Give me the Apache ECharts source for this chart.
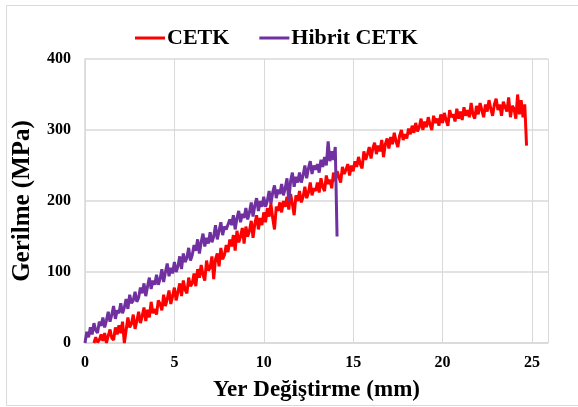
<!DOCTYPE html>
<html>
<head>
<meta charset="utf-8">
<script src="https://cdn.jsdelivr.net/npm/echarts@6/dist/echarts.min.js"></script>
<style>
  html, body { margin: 0; padding: 0; background: #fff; }
  #chart { width: 578px; height: 407px; }
</style>
</head>
<body>
<div id="chart"></div>
<script>
// Yer değiştirme örnekleme (mm)
const step = 0.1
const cetkStart = 0.5
const hibritStart = 0.0

// CETK gerilme değerleri (MPa), 0.5 mm'den itibaren 0.1 mm aralıkla
const cetk = [
  0, 8, 1, 4, 12,
  3, 14, 0, 10, 19, 7, 4, 22, 12, 25,
  14, 30, 0, 18, 36, 22, 27, 40, 20, 31,
  44, 28, 38, 50, 31, 47, 36, 58, 42, 48,
  40, 60, 55, 46, 68, 52, 62, 74, 55, 66,
  78, 60, 72, 84, 66, 88, 75, 70, 92, 80,
  84, 98, 80, 104, 92, 110, 96, 88, 116, 102,
  106, 122, 90, 118, 126, 108, 134, 118, 124, 138,
  128, 146, 136, 152, 130, 158, 142, 150, 162, 140,
  164, 150, 158, 172, 148, 168, 180, 160, 176, 166,
  184, 170, 190, 178, 196, 176, 160, 192, 186, 198,
  184, 200, 192, 206, 188, 210, 196, 180, 208, 200,
  214, 198, 206, 220, 204, 212, 226, 208, 218, 214,
  226, 212, 232, 220, 214, 236, 224, 230, 218, 240,
  228, 242, 234, 226, 248, 238, 244, 252, 236, 250,
  242, 256, 248, 262, 252, 246, 270, 258, 266, 276,
  260, 274, 282, 266, 278, 270, 286, 262, 280, 288,
  274, 290, 280, 296, 284, 276, 292, 300, 286, 294,
  288, 302, 294, 306, 296, 310, 298, 304, 316, 300,
  312, 304, 318, 308, 300, 320, 310, 316, 306, 322,
  310, 324, 314, 306, 328, 318, 322, 312, 330, 316,
  326, 314, 332, 320, 328, 318, 338, 322, 316, 334,
  322, 338, 328, 318, 336, 326, 342, 330, 320, 336,
  344, 328, 336, 320, 340, 332, 326, 346, 318, 334,
  330, 316, 350, 322, 342, 318, 336, 278
]

// Hibrit CETK gerilme değerleri (MPa), 0 mm'den itibaren 0.1 mm aralıkla
const hibrit = [
  0, 16, 8, 22, 12, 28, 18, 14, 30, 24,
  36, 22, 32, 44, 30, 40, 52, 34, 46, 42,
  56, 42, 50, 62, 48, 68, 56, 60, 72, 58,
  64, 78, 70, 84, 66, 80, 92, 76, 88, 82,
  96, 82, 90, 104, 86, 100, 112, 94, 106, 98,
  114, 100, 108, 122, 104, 126, 114, 120, 134, 116,
  124, 138, 130, 146, 126, 142, 154, 136, 148, 140,
  156, 142, 150, 166, 146, 158, 170, 152, 164, 160,
  158, 174, 166, 180, 160, 176, 186, 170, 182, 176,
  190, 174, 184, 198, 178, 194, 204, 186, 200, 192,
  206, 192, 200, 214, 196, 212, 222, 204, 216, 210,
  224, 208, 218, 232, 200, 228, 240, 220, 234, 226,
  240, 226, 236, 250, 232, 246, 256, 238, 250, 244,
  252, 240, 258, 248, 262, 250, 284, 256, 270, 258,
  276, 150
]

const xTicks = [0, 5, 10, 15, 20, 25]
const yTicks = [0, 100, 200, 300, 400]

function pairs(start, values) {
  return values.map((v, i) => [+(start + i * step).toFixed(2), v])
}

const font = 'Liberation Serif'
let myChart = echarts.init(document.getElementById('chart'))

myChart.setOption({
  animation: false,
  backgroundColor: '#fff',
  graphic: [{
    type: 'rect',
    shape: { x: 6.5, y: 5.5, width: 600, height: 400 },
    style: { fill: 'none', stroke: '#d9d9d9', lineWidth: 1 },
    silent: true
  }],
  legend: {
    left: 130,
    top: 22,
    itemWidth: 30,
    itemHeight: 3,
    itemGap: 30,
    icon: 'rect',
    textStyle: { fontFamily: font, fontWeight: 'bold', fontSize: 22, color: '#000', padding: [0, 0, 0, -3] },
    data: ['CETK', 'Hibrit CETK']
  },
  grid: { left: 85, right: 30, top: 59, bottom: 62, containLabel: false },
  xAxis: {
    type: 'value',
    min: 0,
    max: 25.9,
    interval: 5,
    name: 'Yer Değiştirme (mm)',
    nameLocation: 'middle',
    nameGap: 36,
    nameTextStyle: { fontFamily: font, fontWeight: 'bold', fontSize: 23, color: '#000' },
    axisLine: { lineStyle: { color: '#d9d9d9', width: 1.5 } },
    axisTick: { show: false },
    axisLabel: {
      fontFamily: font, fontWeight: 'bold', fontSize: 16, color: '#000', margin: 12,
      showMaxLabel: false,
      formatter: v => xTicks.includes(v) ? String(v) : ''
    },
    splitLine: { show: true, lineStyle: { color: '#d9d9d9', width: 1 } }
  },
  yAxis: {
    type: 'value',
    min: 0,
    max: 400,
    interval: 100,
    name: 'Gerilme (MPa)',
    nameLocation: 'middle',
    nameGap: 50,
    nameTextStyle: { fontFamily: font, fontWeight: 'bold', fontSize: 25, color: '#000' },
    axisLine: { show: true, lineStyle: { color: '#d9d9d9', width: 1.5 } },
    axisTick: { show: false },
    axisLabel: {
      fontFamily: font, fontWeight: 'bold', fontSize: 16, color: '#000', margin: 14,
      formatter: v => yTicks.includes(v) ? String(v) : ''
    },
    splitLine: { show: true, lineStyle: { color: '#d9d9d9', width: 1.5 } }
  },
  series: [
    {
      name: 'CETK',
      type: 'line',
      data: pairs(cetkStart, cetk),
      showSymbol: false,
      lineStyle: { color: '#ff0000', width: 3 },
      itemStyle: { color: '#ff0000' },
      z: 2
    },
    {
      name: 'Hibrit CETK',
      type: 'line',
      data: pairs(hibritStart, hibrit),
      showSymbol: false,
      lineStyle: { color: '#7030a0', width: 3 },
      itemStyle: { color: '#7030a0' },
      z: 3
    }
  ]
})
</script>
</body>
</html>
